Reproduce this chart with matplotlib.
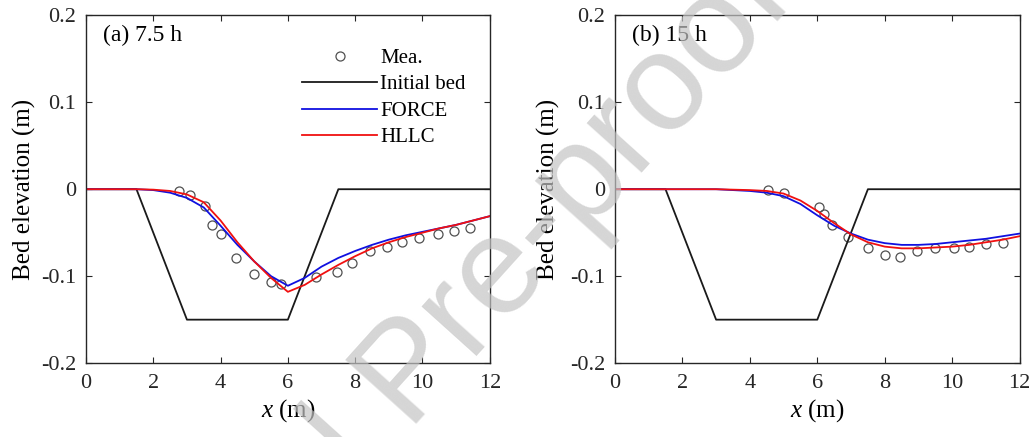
import matplotlib
matplotlib.use("Agg")
import matplotlib.pyplot as plt

# ─── Data ─────────────────────────────────────────────────────────────────────

grid_x = [0, 0.5, 1, 1.5, 2, 2.5, 3, 3.5, 4, 4.5, 5, 5.5, 6,
          6.5, 7, 7.5, 8, 8.5, 9, 9.5, 10, 10.5, 11, 11.5, 12]

bed_x = [0, 1.5, 3, 6, 7.5, 12]
bed_y = [0, 0, -0.15, -0.15, 0, 0]

# (a) 7.5 h
mea_a_x = [2.75, 3.1, 3.55, 3.75, 4.0, 4.45, 5.0, 5.5, 5.8, 6.85,
           7.45, 7.9, 8.45, 8.95, 9.4, 9.9, 10.45, 10.95, 11.4]
mea_a_y = [-0.002, -0.007, -0.019, -0.041, -0.051, -0.079, -0.098, -0.107, -0.109, -0.101,
           -0.095, -0.085, -0.071, -0.066, -0.061, -0.056, -0.052, -0.048, -0.045]
force_a = [0, 0, 0, 0, -0.001, -0.004, -0.010, -0.021, -0.042, -0.064, -0.083, -0.100, -0.111,
           -0.102, -0.089, -0.079, -0.071, -0.064, -0.058, -0.053, -0.049, -0.045, -0.041, -0.036, -0.031]
hllc_a = [0, 0, 0, 0, -0.0005, -0.002, -0.006, -0.015, -0.036, -0.061, -0.083, -0.102, -0.118,
          -0.110, -0.098, -0.087, -0.077, -0.068, -0.061, -0.055, -0.050, -0.045, -0.041, -0.036, -0.031]

# (b) 15 h
mea_b_x = [4.55, 5.0, 6.05, 6.2, 6.45, 6.9, 7.5, 8.0, 8.45, 8.95, 9.5, 10.05, 10.5, 11.0, 11.5]
mea_b_y = [-0.001, -0.004, -0.020, -0.028, -0.041, -0.055, -0.068, -0.076, -0.078, -0.071,
           -0.068, -0.068, -0.067, -0.063, -0.062]
force_b = [0, 0, 0, 0, 0, 0, 0, -0.001, -0.002, -0.004, -0.008, -0.017, -0.030,
           -0.042, -0.051, -0.058, -0.062, -0.064, -0.064, -0.063, -0.061, -0.059, -0.057, -0.054, -0.051]
hllc_b = [0, 0, 0, 0, 0, 0, 0, -0.0005, -0.001, -0.002, -0.005, -0.013, -0.025,
          -0.039, -0.052, -0.061, -0.066, -0.068, -0.068, -0.067, -0.066, -0.064, -0.061, -0.058, -0.054]

panels = [
    ("(a) 7.5 h", mea_a_x, mea_a_y, force_a, hllc_a, -0.125),
    ("(b) 15 h",  mea_b_x, mea_b_y, force_b, hllc_b, -0.135),
]

x_ticks = [0, 2, 4, 6, 8, 10, 12]
y_ticks = [-0.2, -0.1, 0, 0.1, 0.2]
y_tick_labels = ["-0.2", "-0.1", "0", "0.1", "0.2"]

# ─── Style ────────────────────────────────────────────────────────────────────

SERIF = "Liberation Serif"

plt.rcParams.update({
    "font.family":       SERIF,
    "mathtext.fontset":  "custom",
    "mathtext.rm":       SERIF,
    "mathtext.it":       SERIF + ":italic",
    "axes.linewidth":    1.0,
    "axes.edgecolor":    "#262626",
    "xtick.direction":   "in",
    "ytick.direction":   "in",
    "xtick.top":         True,
    "ytick.right":       True,
    "xtick.major.size":  4,
    "ytick.major.size":  4,
    "xtick.color":       "#262626",
    "ytick.color":       "#262626",
})

fig = plt.figure(figsize=(10.3, 4.37), dpi=100)
axes = [fig.add_axes([0.0835, 0.169, 0.392, 0.796]),
        fig.add_axes([0.597, 0.169, 0.393, 0.796])]

for ax, (tag, mx, my, fy, hy, ylab_x) in zip(axes, panels):
    ax.plot(mx, my, "o", ms=6.5, mfc="none", mec="#505050", mew=0.9, label="Mea.")
    ax.plot(bed_x, bed_y, color="#1a1a1a", lw=1.3, label="Initial bed")
    ax.plot(grid_x, fy, color="#1010e0", lw=1.3, label="FORCE")
    ax.plot(grid_x, hy, color="#f01010", lw=1.3, label="HLLC")

    ax.set_xlim(0, 12)
    ax.set_ylim(-0.2, 0.2)
    ax.set_xticks(x_ticks)
    ax.set_xticklabels([str(t) for t in x_ticks], fontfamily=SERIF, fontsize=16)
    ax.set_yticks(y_ticks)
    ax.set_yticklabels(y_tick_labels, fontfamily=SERIF, fontsize=16)
    ax.tick_params(axis="x", pad=8)
    ax.tick_params(axis="y", pad=7)
    ax.set_xlabel("$\\mathit{x}$ (m)", fontsize=18, labelpad=3)
    ax.set_ylabel("Bed elevation (m)", fontsize=18)
    ax.yaxis.set_label_coords(ylab_x, 0.5)
    ax.text(0.042, 0.943, tag, transform=ax.transAxes, fontsize=17,
            ha="left", va="center")

axes[0].legend(loc="upper left", bbox_to_anchor=(0.535, 0.905), frameon=False,
               fontsize=15, borderpad=0, borderaxespad=0, handlelength=3.6,
               handletextpad=0.15, labelspacing=0.33, numpoints=1)

# watermark
fig.text(0.425, 0.085, "Journal Pre-proof", rotation=48, rotation_mode="anchor",
         ha="center", va="baseline", fontsize=100, color="#c4c4c4", alpha=0.7,
         family="Liberation Sans")

fig.savefig("out.png", dpi=100)
